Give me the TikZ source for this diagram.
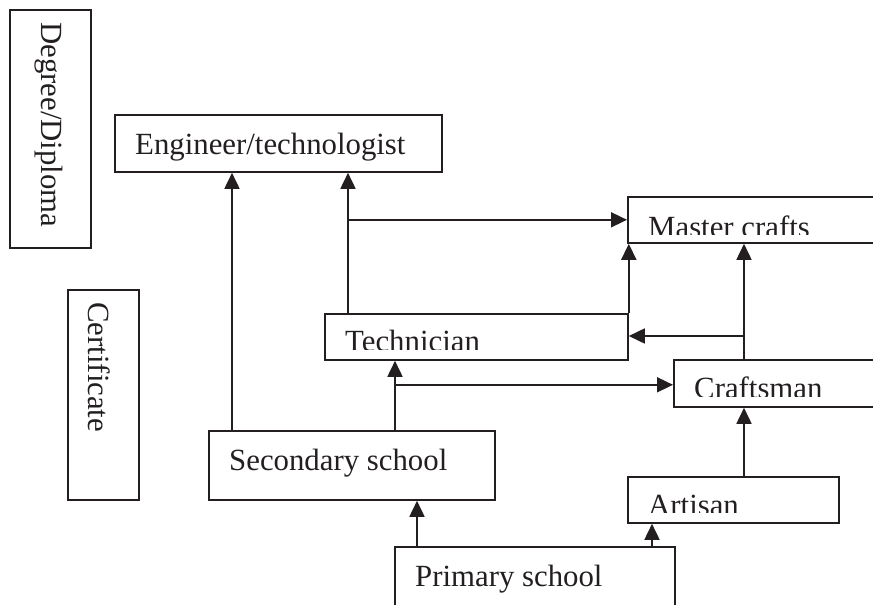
\documentclass[tikz,border=0pt]{standalone}
\usepackage{fontspec}
\setmainfont{Liberation Serif}
\usetikzlibrary{arrows.meta,calc}
\definecolor{ink}{RGB}{35,31,32}
\tikzset{
  box/.style={draw=ink, line width=1.8pt, inner sep=0pt, anchor=north west},
  txt/.style={text=ink, inner sep=0pt, font=\fontsize{30.8}{36}\selectfont},
  arr/.style={draw=ink, line width=1.7pt, -{Triangle[length=16pt,width=15pt]}},
  ln/.style={draw=ink, line width=1.7pt}
}
\begin{document}
\begin{tikzpicture}[x=1pt,y=-1pt]
\clip (0,0) rectangle (873,605);
\fill[white] (0,0) rectangle (873,605);
% boxes
\node[box, minimum width=81pt, minimum height=238pt] (deg) at (9,9) {};
\node[box, minimum width=71pt, minimum height=210pt] (cert) at (67,289) {};
\node[box, minimum width=327pt, minimum height=57pt] (eng) at (114,114) {};
\node[box, minimum width=280pt, minimum height=46pt] (mas) at (627,196) {};
\node[box, minimum width=303pt, minimum height=46pt] (tech) at (324,313) {};
\node[box, minimum width=240pt, minimum height=47pt] (craft) at (673,359) {};
\node[box, minimum width=286pt, minimum height=69pt] (sec) at (208,430) {};
\node[box, minimum width=211pt, minimum height=46pt] (art) at (627,476) {};
\node[box, minimum width=280pt, minimum height=80pt] (pri) at (394,546) {};
% texts
\node[txt, rotate=-90, anchor=base west] at ($(deg.north west)+(32,13)$) {Degree/Diploma};
\node[txt, rotate=-90, anchor=base west] at ($(cert.north west)+(21,13)$) {Certificate};
\node[txt, anchor=base west] at ($(eng.north west)+(21,40)$) {Engineer/technologist};
\node[txt, anchor=base west] at ($(sec.north west)+(21,40)$) {Secondary school};
\node[txt, anchor=base west] at ($(pri.north west)+(21,40)$) {Primary school};
\begin{scope}
\clip (mas.north west) rectangle ($(mas.south east)+(0,-9)$);
\node[txt, anchor=base west] at ($(mas.north west)+(21,41)$) {Master crafts};
\end{scope}
\begin{scope}
\clip (tech.north west) rectangle ($(tech.south east)+(0,-11)$);
\node[txt, anchor=base west] at ($(tech.north west)+(21,38.5)$) {Technician};
\end{scope}
\begin{scope}
\clip (craft.north west) rectangle ($(craft.south east)+(0,-11.5)$);
\node[txt, anchor=base west] at ($(craft.north west)+(21,39)$) {Craftsman};
\end{scope}
\begin{scope}
\clip (art.north west) rectangle ($(art.south east)+(0,-11)$);
\node[txt, anchor=base west] at ($(art.north west)+(21,39.5)$) {Artisan};
\end{scope}
% connectors
\coordinate (c1) at ([xshift=24pt]sec.north west);
\draw[arr] (c1) -- (c1 |- eng.south);
\coordinate (c2) at ([xshift=24pt]tech.north west);
\draw[arr] (c2) -- (c2 |- eng.south);
\coordinate (c3) at ($(c2 |- eng.south)+(0,47)$);
\draw[arr] (c3) -- (c3 -| mas.west);
\draw[arr] (tech.north east) -- (tech.north east |- mas.south);
\coordinate (c4) at ([xshift=71pt]craft.north west);
\draw[arr] (c4) -- (c4 |- mas.south);
\coordinate (c5) at ($(c4)+(0,-23)$);
\draw[arr] (c5) -- (c5 -| tech.east);
\coordinate (c6) at ([xshift=187pt]sec.north west);
\draw[arr] (c6) -- (c6 |- tech.south);
\coordinate (c7) at ($(c6 |- tech.south)+(0,24)$);
\draw[arr] (c7) -- (c7 -| craft.west);
\coordinate (c8) at ([xshift=23pt]pri.north west);
\draw[arr] (c8) -- (c8 |- sec.south);
\coordinate (c9) at ([xshift=258pt]pri.north west);
\draw[arr] (c9) -- (c9 |- art.south);
\coordinate (c10) at ([xshift=117pt]art.north west);
\draw[arr] (c10) -- (c10 |- craft.south);
\end{tikzpicture}
\end{document}
